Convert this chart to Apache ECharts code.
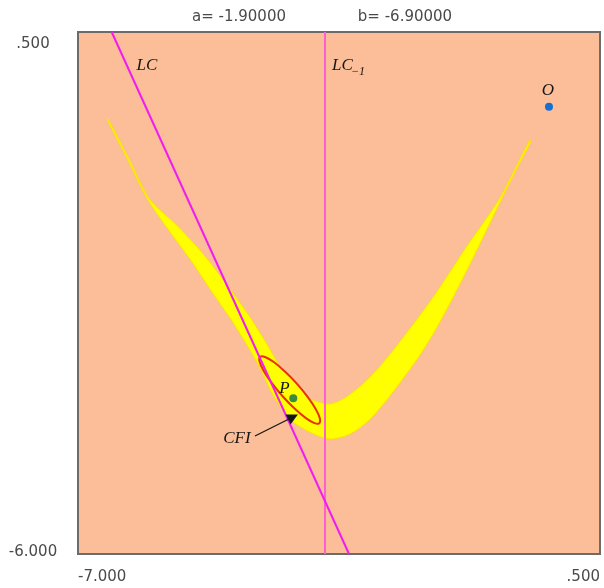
<!DOCTYPE html>
<html>
<head>
<meta charset="utf-8">
<script src="https://cdn.jsdelivr.net/npm/echarts@6/dist/echarts.min.js"></script>
<style>
  html, body { margin: 0; padding: 0; background: #ffffff; }
  #chart { width: 604px; height: 588px; }
</style>
</head>
<body>
<div id="chart"></div>
<script>
// Parameters of the map shown in the header
const paramA = -1.9;
const paramB = -6.9;

// Axis extents and tick labels
const xRange = [-7, 0.5];
const yRange = [-6, 0.5];
const xTicks = [-7, 0.5];
const yTicks = [-6, 0.5];

// Outer edge of the attracting band: left arm down to the vertex, then up the right arm
const bandOuter = [
  [-6.583, -0.583], [-6.282, -1.094], [-5.994, -1.592], [-5.678, -1.990],
  [-5.362, -2.364], [-5.075, -2.738], [-4.816, -3.061], [-4.572, -3.398],
  [-4.370, -3.709], [-4.198, -4.020], [-3.940, -4.331], [-3.650, -4.490],
  [-3.379, -4.568], [-3.092, -4.506], [-2.833, -4.344], [-2.575, -4.095],
  [-2.345, -3.833], [-2.115, -3.559], [-1.899, -3.261], [-1.684, -2.924],
  [-1.483, -2.588], [-1.282, -2.239], [-1.095, -1.903], [-0.908, -1.567],
  [-0.707, -1.218], [-0.491, -0.857]
];
// Inner edge of the band: right arm back down, then up the left arm
const bandInner = [
  [-0.513, -0.857], [-0.728, -1.218], [-0.937, -1.567], [-1.167, -1.866],
  [-1.411, -2.165], [-1.655, -2.489], [-1.885, -2.787], [-2.115, -3.061],
  [-2.345, -3.323], [-2.560, -3.559], [-2.776, -3.771], [-2.991, -3.945],
  [-3.193, -4.070], [-3.379, -4.132], [-3.552, -4.107], [-3.695, -4.057],
  [-3.954, -3.896], [-4.140, -3.609], [-4.340, -3.310], [-4.570, -2.999],
  [-4.860, -2.650], [-5.190, -2.277], [-5.570, -1.916], [-5.973, -1.580],
  [-6.267, -1.081], [-6.569, -0.583]
];

// Closed curve bounding the chaotic interval CFI around P
const cfiCurve = [
  [-3.533, -4.371], [-3.603, -4.370], [-3.730, -4.305], [-3.889, -4.189],
  [-4.060, -4.036], [-4.215, -3.873], [-4.332, -3.721], [-4.391, -3.607],
  [-4.384, -3.546], [-4.313, -3.547], [-4.187, -3.610], [-4.027, -3.728],
  [-3.856, -3.879], [-3.701, -4.044], [-3.585, -4.194], [-3.526, -4.309]
];

// Critical curve LC and its preimage LC_-1
const lcLine = [[-6.516, 0.5], [-3.106, -6.0]];
const lcPreLine = [[-3.451, 0.5], [-3.451, -6.0]];

// Fixed points
const pointO = [-0.233, -0.430];
const pointP = [-3.907, -4.061];

// Annotation anchors
const labelLC = [-6.009, 0.077];
const labelLCPre = [-3.351, 0.077];
const labelLCPreSub = [-3.078, -0.002];
const labelO = [-0.247, -0.235];
const labelP = [-4.033, -3.945];
const labelCFI = [-4.716, -4.556];
const cfiArrow = [[-4.457, -4.531], [-3.911, -4.294]];

const axisFont = 'DejaVu Sans';
const mathFont = 'Liberation Serif';

function fmtTick(v) {
  const s = Number(v).toFixed(3);
  return s.replace(/^(-?)0\./, '$1.');
}

function textItem(pos, text, size, align) {
  return {
    type: 'custom',
    coordinateSystem: 'cartesian2d',
    silent: true,
    z: 10,
    data: [pos],
    renderItem: function (params, api) {
      const p = api.coord([api.value(0), api.value(1)]);
      return {
        type: 'text',
        x: p[0], y: p[1],
        style: {
          text: text,
          font: 'italic ' + size + 'px "' + mathFont + '"',
          fill: '#161616',
          align: align || 'center',
          verticalAlign: 'middle'
        }
      };
    }
  };
}

const chart = echarts.init(document.getElementById('chart'), null, { renderer: 'canvas' });

const option = {
  animation: false,
  backgroundColor: '#ffffff',
  grid: {
    left: 78, top: 32, width: 522, height: 522,
    show: true,
    backgroundColor: '#fcbe98',
    borderColor: '#6e6a68',
    borderWidth: 2
  },
  graphic: [
    { type: 'text', x: 239, y: 17, style: { text: 'a= ' + paramA.toFixed(5), font: '15px "' + axisFont + '"', fill: '#4a4a4a', align: 'center', verticalAlign: 'middle' } },
    { type: 'text', x: 405, y: 17, style: { text: 'b= ' + paramB.toFixed(5), font: '15px "' + axisFont + '"', fill: '#4a4a4a', align: 'center', verticalAlign: 'middle' } }
  ],
  xAxis: {
    type: 'value',
    min: xRange[0], max: xRange[1],
    axisLine: { show: false },
    axisTick: { show: false },
    splitLine: { show: false },
    axisLabel: {
      customValues: xTicks,
      formatter: fmtTick,
      alignMinLabel: 'left',
      alignMaxLabel: 'right',
      margin: 16,
      fontFamily: axisFont,
      fontSize: 15,
      color: '#4a4a4a'
    }
  },
  yAxis: {
    type: 'value',
    min: yRange[0], max: yRange[1],
    axisLine: { show: false },
    axisTick: { show: false },
    splitLine: { show: false },
    axisLabel: {
      customValues: yTicks,
      formatter: function (v) {
        return v === yRange[1] ? '{t|' + fmtTick(v) + '}' : '{b|' + fmtTick(v) + '}';
      },
      rich: {
        t: { fontFamily: axisFont, fontSize: 15, color: '#4a4a4a', padding: [24, 0, 0, 0] },
        b: { fontFamily: axisFont, fontSize: 15, color: '#4a4a4a', padding: [0, 0, 4, 0] }
      },
      align: 'center',
      verticalAlign: 'middle',
      margin: 45
    }
  },
  series: [
    {
      name: 'band',
      type: 'custom',
      coordinateSystem: 'cartesian2d',
      silent: true,
      z: 1,
      data: [0],
      renderItem: function (params, api) {
        const pts = bandOuter.concat(bandInner).map(function (d) { return api.coord(d); });
        return {
          type: 'polygon',
          shape: { points: pts, smooth: 0.3 },
          style: { fill: '#ffff00', stroke: '#fbe400', lineWidth: 1 }
        };
      }
    },
    {
      name: 'CFI',
      type: 'custom',
      coordinateSystem: 'cartesian2d',
      silent: true,
      z: 2,
      data: [0],
      renderItem: function (params, api) {
        const pts = cfiCurve.map(function (d) { return api.coord(d); });
        return {
          type: 'polygon',
          shape: { points: pts, smooth: 0.4 },
          style: { fill: '#ffff00', stroke: '#e8300e', lineWidth: 2 }
        };
      }
    },
    {
      name: 'LC_-1',
      type: 'line',
      data: lcPreLine,
      showSymbol: false,
      silent: true,
      z: 3,
      lineStyle: { color: '#ff5fd2', width: 2 }
    },
    {
      name: 'LC',
      type: 'line',
      data: lcLine,
      showSymbol: false,
      silent: true,
      z: 4,
      lineStyle: { color: '#f01cf0', width: 2 }
    },
    {
      name: 'arrow',
      type: 'lines',
      coordinateSystem: 'cartesian2d',
      silent: true,
      z: 5,
      symbol: ['none', 'triangle'],
      symbolSize: 11,
      lineStyle: { color: '#161616', width: 1.3, opacity: 1 },
      data: [{ coords: cfiArrow }]
    },
    {
      name: 'O',
      type: 'scatter',
      data: [pointO],
      symbolSize: 8,
      silent: true,
      z: 6,
      itemStyle: { color: '#1570d2', opacity: 1 }
    },
    {
      name: 'P',
      type: 'scatter',
      data: [pointP],
      symbolSize: 8,
      silent: true,
      z: 6,
      itemStyle: { color: '#3c8a3c', opacity: 1 }
    },
    textItem(labelLC, 'LC', 17, 'center'),
    textItem(labelLCPre, 'LC', 17, 'left'),
    textItem(labelLCPreSub, '\u22121', 12, 'left'),
    textItem(labelO, 'O', 17, 'center'),
    textItem(labelP, 'P', 17, 'center'),
    textItem(labelCFI, 'CFI', 17, 'center')
  ]
};

chart.setOption(option);
</script>
</body>
</html>
